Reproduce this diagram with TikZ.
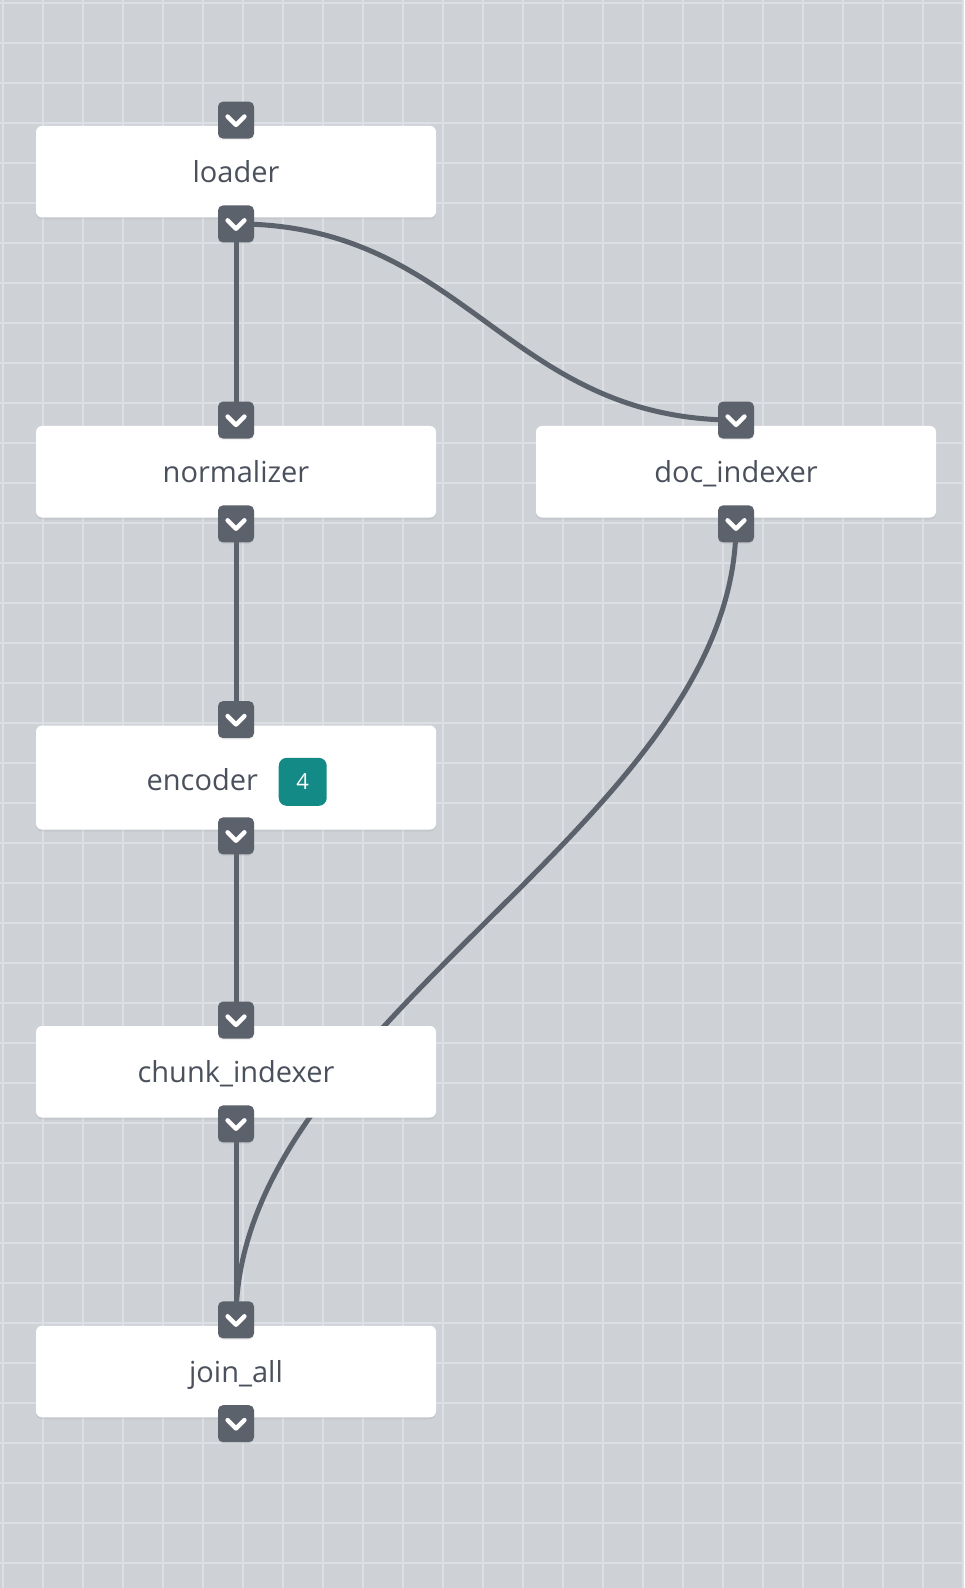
\documentclass[tikz,border=0pt]{standalone}
\usepackage{fontspec}
\setmainfont{Open Sans}
\usepackage{xcolor}
\usetikzlibrary{positioning}
\usetikzlibrary{shadows}
\definecolor{canvasgray}{RGB}{206,209,214}
\definecolor{gridgray}{RGB}{220,223,227}
\definecolor{slate}{RGB}{91,98,107}
\definecolor{inkgray}{RGB}{74,81,92}
\definecolor{tealbadge}{RGB}{19,138,134}
\pgfdeclarelayer{below}
\pgfsetlayers{below,main}

\begin{document}
\begin{tikzpicture}[x=0.5pt, y=-0.5pt,
	tasklabel/.style={text=inkgray, inner sep=0pt, font=\fontsize{14.5}{17}\selectfont},
	task/.style={tasklabel, fill=white, rounded corners=3pt, minimum width=200pt, minimum height=45.75pt, text height=13pt, text depth=2pt,
		drop shadow={opacity=0.12, shadow xshift=0pt, shadow yshift=-1pt}},
	port/.style={fill=slate, rounded corners=2.5pt, minimum width=18pt, minimum height=18.5pt, inner sep=0pt,
		drop shadow={opacity=0.12, shadow xshift=0pt, shadow yshift=-0.8pt},
		path picture={\draw[white, sharp corners, line width=2.2pt, line cap=round, line join=round]
			([xshift=-4.2pt, yshift=1.8pt]path picture bounding box.center) --
			([yshift=-2.4pt]path picture bounding box.center) --
			([xshift=4.2pt, yshift=1.8pt]path picture bounding box.center);}},
	wire/.style={draw=slate, line width=2.5pt},
	badge/.style={fill=tealbadge, rounded corners=4pt, minimum size=24pt, inner sep=0pt, text=white, font=\fontsize{11}{13}\selectfont},
	gridline/.style={gridgray, line width=1pt}]
	\useasboundingbox (0,0) rectangle (964,1588);

	% tasks
	\node[task] (loader) at (236,171.75) {loader};
	\node[port] (loader-in) at ([yshift=2.75pt]loader.north) {};
	\node[port] (loader-out) at ([yshift=-3pt]loader.south) {};

	\node[task] (normalizer) at (236,471.75) {normalizer};
	\node[port] (normalizer-in) at ([yshift=2.75pt]normalizer.north) {};
	\node[port] (normalizer-out) at ([yshift=-3pt]normalizer.south) {};

	\node[task] (docindexer) at (736,471.75) {doc\_indexer};
	\node[port] (docindexer-in) at ([yshift=2.75pt]docindexer.north) {};
	\node[port] (docindexer-out) at ([yshift=-3pt]docindexer.south) {};

	\node[task, minimum height=52pt] (encoder) at (236,777.5) {};
	\node[tasklabel, anchor=base] (encoder-name) at (202.3,790.7) {encoder};
	\node[badge, right=10pt of encoder-name, yshift=-1pt] (encoder-count) {4};
	\node[port] (encoder-in) at ([yshift=2.75pt]encoder.north) {};
	\node[port] (encoder-out) at ([yshift=-3pt]encoder.south) {};

	\node[task] (chunkindexer) at (236,1071.75) {chunk\_indexer};
	\node[port] (chunkindexer-in) at ([yshift=2.75pt]chunkindexer.north) {};
	\node[port] (chunkindexer-out) at ([yshift=-3pt]chunkindexer.south) {};

	\node[task] (joinall) at (236,1371.5) {join\_all};
	\node[port] (joinall-in) at ([yshift=2.75pt]joinall.north) {};
	\node[port] (joinall-out) at ([yshift=-3pt]joinall.south) {};

	\begin{pgfonlayer}{below}
		% canvas and grid
		\fill[canvasgray] (0,0) rectangle (964,1588);
		\foreach \gx in {0,...,24} \draw[gridline] (2.7+40*\gx,0) -- (2.7+40*\gx,1588);
		\foreach \gy in {0,...,39} \draw[gridline] (0,2.7+40*\gy) -- (964,2.7+40*\gy);
		% wires
		\draw[wire] (loader-out.center) -- (normalizer-in.center);
		\draw[wire] (loader-out.center) .. controls +(230,0) and +(-230,0) .. (docindexer-in.center);
		\draw[wire] (normalizer-out.center) -- (encoder-in.center);
		\draw[wire] (encoder-out.center) -- (chunkindexer-in.center);
		\draw[wire] (chunkindexer-out.center) -- (joinall-in.center);
		\draw[wire] (docindexer-out.center) .. controls +(0,300) and +(0,-300) .. (joinall-in.center);
	\end{pgfonlayer}
\end{tikzpicture}
\end{document}
